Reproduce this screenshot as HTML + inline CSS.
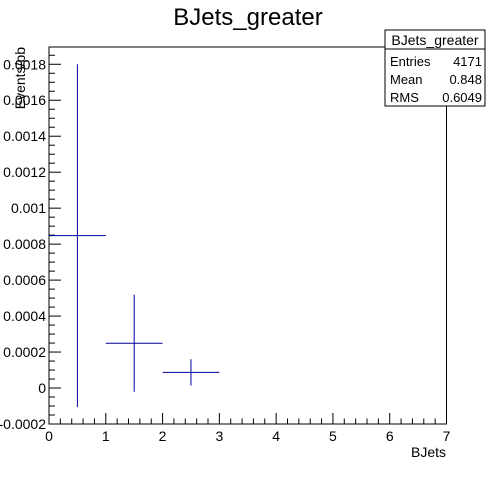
<!DOCTYPE html>
<html><head><meta charset="utf-8"><style>
html,body{margin:0;padding:0;background:#fff}
svg text{font-family:"Liberation Sans",Arial,sans-serif}
</style></head><body>
<svg width="496" height="472" viewBox="0 0 496 472" xmlns="http://www.w3.org/2000/svg">
<rect width="496" height="472" fill="#fff"/>
<text x="248" y="25" font-size="24" text-anchor="middle">BJets_greater</text>
<g id="axes"></g>
<g id="marks"></g>
<g>
<rect x="385" y="30" width="100" height="76" fill="#fff" stroke="#000" stroke-width="1"/>
<line x1="385" y1="49" x2="485" y2="49" stroke="#000"/>
<text x="435" y="45" font-size="14" text-anchor="middle">BJets_greater</text>
<text x="390" y="66" font-size="13">Entries</text>
<text x="482" y="66" font-size="13" text-anchor="end">4171</text>
<text x="390" y="84" font-size="13">Mean</text>
<text x="482" y="84" font-size="13" text-anchor="end">0.848</text>
<text x="390" y="102" font-size="13">RMS</text>
<text x="482" y="102" font-size="13" text-anchor="end">0.6049</text>
</g>
<text x="446" y="457" font-size="14" text-anchor="end">BJets</text>
<text transform="translate(25,47) rotate(-90)" font-size="14" text-anchor="end">Events/pb</text>
</svg>
<script>
const binCenters=[0.5,1.5,2.5];
const binWidths=[1,1,1];
const values=[0.000847,0.000249,0.000087];
const errors=[0.000953,0.00027,0.000073];
const xTicks=[0,1,2,3,4,5,6,7];
const yTicks=[-0.0002,0,0.0002,0.0004,0.0006,0.0008,0.001,0.0012,0.0014,0.0016,0.0018];
const yTickLabels=["-0.0002","0","0.0002","0.0004","0.0006","0.0008","0.001","0.0012","0.0014","0.0016","0.0018"];
const X0=49,X1=446.5,Y0=424,Y1=47;
const xMin=0,xMax=7,yMin=-0.0002,yMax=0.001896;
function sx(v){return X0+(v-xMin)/(xMax-xMin)*(X1-X0);}
function sy(v){return Y0-(v-yMin)/(yMax-yMin)*(Y0-Y1);}
const NS="http://www.w3.org/2000/svg";
function mk(tag,attrs,parent){const e=document.createElementNS(NS,tag);for(const k in attrs)e.setAttribute(k,attrs[k]);parent.appendChild(e);return e;}
const ax=document.getElementById('axes');
const frame=mk('rect',{x:X0,y:Y1,width:X1-X0,height:Y0-Y1,fill:'none',stroke:'#000','stroke-width':1},ax);


for(let i=0;i<xTicks.length;i++){
  const x=sx(xTicks[i]);
  const t=mk('line',{x1:x,y1:Y0,x2:x,y2:Y0-11,stroke:'#000'},ax);
  
  
  const l=mk('text',{x:x,y:Y0+17,'font-size':14,'text-anchor':'middle'},ax);
  l.textContent=String(xTicks[i]);
  
  
  if(i<xTicks.length-1){
    for(let j=1;j<5;j++){
      const xm=sx(xTicks[i]+j*(xTicks[i+1]-xTicks[i])/5);
      const m=mk('line',{x1:xm,y1:Y0,x2:xm,y2:Y0-5.5,stroke:'#000'},ax);
      
      
    }
  }
}
const yStep=yTicks[1]-yTicks[0];
for(let i=0;i<yTicks.length;i++){
  const y=sy(yTicks[i]);
  const t=mk('line',{x1:X0,y1:y,x2:X0+12,y2:y,stroke:'#000'},ax);
  
  
  const l=mk('text',{x:X0-3,y:y+5,'font-size':14,'text-anchor':'end'},ax);
  l.textContent=yTickLabels[i];
  
  
  for(let j=1;j<4;j++){
    const v=yTicks[i]+j*yStep/4;
    if(v>yMax)break;
    const ym=sy(v);
    const m=mk('line',{x1:X0,y1:ym,x2:X0+6,y2:ym,stroke:'#000'},ax);
    
    
  }
}
const mg=document.getElementById('marks');
for(let i=0;i<values.length;i++){
  const g=mk('g',{stroke:'#000099','stroke-width':1},mg);
  
  
  const xc=sx(binCenters[i]);
  mk('line',{x1:sx(binCenters[i]-binWidths[i]/2),y1:sy(values[i]),x2:sx(binCenters[i]+binWidths[i]/2),y2:sy(values[i])},g);
  mk('line',{x1:xc,y1:sy(values[i]+errors[i]),x2:xc,y2:sy(values[i]-errors[i])},g);
}
</script>
</body></html>
